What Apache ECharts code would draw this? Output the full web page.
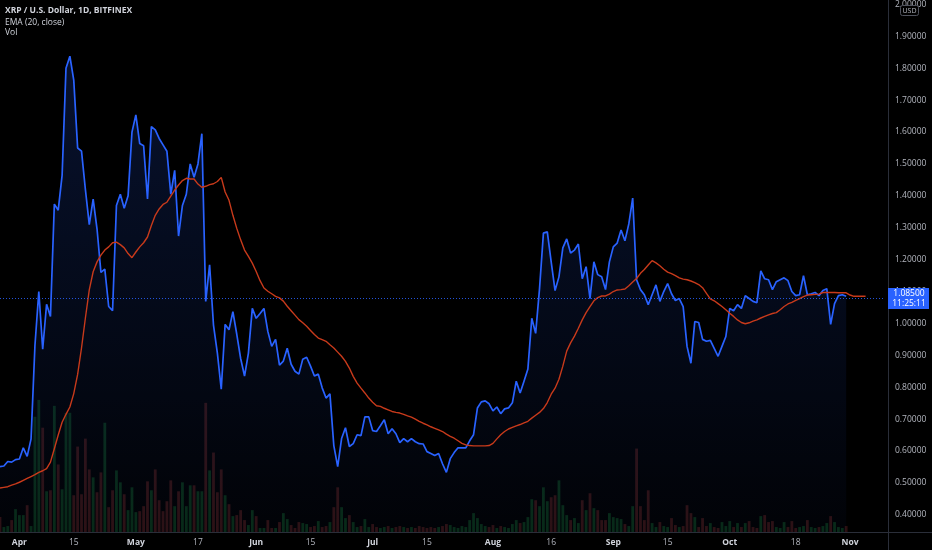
<!DOCTYPE html>
<html>
<head>
<meta charset="utf-8">
<script src="https://cdn.jsdelivr.net/npm/echarts@6/dist/echarts.min.js"></script>
<style>
html,body{margin:0;padding:0;background:#000;}
#chart{width:932px;height:550px;}
</style>
</head>
<body>
<div id="chart"></div>
<script>
// ---- data (daily, starting 2021-03-27) ----
const startDate = [2021, 2, 27];
const dayCount = 229; // through 2021-11-10 (empty space after last bar)

const closes = [
0.551,0.553,0.567,0.565,0.573,0.575,0.610,0.583,0.638,0.930,
1.100,0.919,1.060,1.022,1.374,1.355,1.464,1.800,1.838,1.763,
1.550,1.540,1.420,1.310,1.390,1.296,1.160,1.170,1.053,1.040,
1.370,1.405,1.361,1.400,1.600,1.654,1.564,1.557,1.390,1.617,
1.607,1.580,1.560,1.540,1.405,1.480,1.274,1.370,1.405,1.500,
1.458,1.500,1.595,1.069,1.184,0.995,0.907,0.794,0.997,0.980,
1.037,0.966,0.890,0.835,0.907,1.047,1.016,1.031,1.047,0.975,
0.928,0.950,0.869,0.882,0.922,0.872,0.850,0.841,0.888,0.894,
0.866,0.835,0.841,0.798,0.766,0.779,0.617,0.551,0.639,0.673,
0.614,0.623,0.651,0.648,0.707,0.707,0.664,0.661,0.679,0.698,
0.654,0.670,0.654,0.626,0.639,0.629,0.639,0.629,0.623,0.622,
0.598,0.592,0.586,0.592,0.560,0.533,0.576,0.595,0.610,0.610,
0.610,0.632,0.651,0.735,0.754,0.757,0.748,0.726,0.738,0.717,
0.732,0.735,0.751,0.819,0.782,0.819,0.857,1.016,0.969,1.109,
1.283,1.287,1.193,1.103,1.146,1.237,1.265,1.221,1.230,1.249,
1.140,1.178,1.078,1.193,1.153,1.146,1.106,1.193,1.240,1.252,
1.293,1.259,1.312,1.393,1.137,1.106,1.090,1.059,1.090,1.121,
1.069,1.100,1.125,1.093,1.072,1.078,1.053,0.928,0.875,1.006,
1.003,0.950,0.944,0.947,0.922,0.897,0.928,0.959,1.047,1.040,
1.059,1.047,1.087,1.078,1.069,1.065,1.165,1.140,1.137,1.106,
1.131,1.137,1.143,1.134,1.100,1.087,1.090,1.150,1.090,1.093,
1.097,1.087,1.103,1.109,0.997,1.062,1.087,1.090,1.085
];

const ema20 = [
0.484,0.486,0.488,0.493,0.497,0.502,0.508,0.514,0.520,0.526,
0.533,0.538,0.545,0.565,0.607,0.650,0.690,0.715,0.738,0.780,
0.840,0.923,1.017,1.105,1.162,1.193,1.214,1.230,1.240,1.253,
1.255,1.247,1.237,1.219,1.206,1.224,1.240,1.253,1.271,1.307,
1.339,1.359,1.373,1.380,1.399,1.418,1.434,1.448,1.455,1.453,
1.453,1.437,1.427,1.430,1.435,1.438,1.445,1.458,1.412,1.386,
1.339,1.298,1.262,1.230,1.210,1.189,1.163,1.134,1.111,1.101,
1.093,1.085,1.080,1.070,1.054,1.040,1.026,1.012,1.002,0.991,
0.978,0.965,0.954,0.949,0.944,0.933,0.923,0.910,0.897,0.881,
0.860,0.834,0.813,0.797,0.782,0.766,0.753,0.742,0.740,0.734,
0.729,0.724,0.721,0.719,0.715,0.710,0.706,0.700,0.693,0.687,
0.682,0.676,0.671,0.666,0.661,0.653,0.646,0.640,0.632,0.624,
0.619,0.617,0.616,0.616,0.616,0.616,0.617,0.624,0.638,0.651,
0.661,0.669,0.674,0.679,0.683,0.688,0.693,0.703,0.712,0.721,
0.733,0.752,0.778,0.797,0.825,0.866,0.913,0.939,0.960,0.985,
1.011,1.034,1.053,1.071,1.081,1.086,1.086,1.092,1.100,1.105,
1.106,1.108,1.118,1.130,1.141,1.157,1.169,1.183,1.197,1.190,
1.181,1.170,1.161,1.156,1.150,1.143,1.139,1.137,1.133,1.128,
1.122,1.112,1.094,1.077,1.071,1.062,1.053,1.043,1.032,1.022,
1.011,1.003,0.999,1.002,1.007,1.011,1.017,1.022,1.027,1.031,
1.034,1.043,1.053,1.061,1.066,1.072,1.078,1.084,1.089,1.090,
1.091,1.092,1.097,1.097,1.097,1.097,1.096,1.096,1.096,1.089,
1.085,1.085,1.085,1.085
];

// volume, millions
const volumes = [
15,5,6,12,23,17,17,27,6,116,
133,105,41,42,127,68,43,120,120,37,
86,38,94,63,55,40,60,110,25,42,
62,50,38,22,45,20,21,26,51,42,
63,32,21,31,52,26,41,50,26,47,
47,41,41,130,62,80,40,63,37,28,
16,17,22,12,7,22,16,4,4,12,
4,4,10,19,13,7,4,10,9,8,
5,6,11,5,6,10,25,45,25,14,
17,10,5,6,13,5,8,5,4,5,
6,4,5,6,5,4,5,4,6,5,
4,5,4,5,6,8,7,5,4,6,
5,12,19,14,8,6,5,7,4,6,
5,4,8,12,9,10,15,33,32,26,
45,31,35,37,52,27,17,12,14,9,
32,22,39,24,22,12,12,19,15,14,
13,8,6,26,84,26,12,42,9,5,
10,6,5,14,7,5,6,27,19,15,
5,14,6,9,5,4,10,6,11,5,
9,5,9,11,5,4,16,17,10,11,
5,4,10,5,11,4,5,6,12,5,
4,5,6,9,16,10,5,4,6
];

const lastPrice = 1.085;
const lastPriceText = '1.08500';
const countdownText = '11:25:11';

const tickDays = ['2021-04-01','2021-04-15','2021-05-01','2021-05-17','2021-06-01','2021-06-15','2021-07-01','2021-07-15','2021-08-01','2021-08-16','2021-09-01','2021-09-15','2021-10-01','2021-10-18','2021-11-01'];
const tickTexts = ['Apr','15','May','17','Jun','15','Jul','15','Aug','16','Sep','15','Oct','18','Nov'];
const monthTicks = ['Apr','May','Jun','Jul','Aug','Sep','Oct','Nov'];

const titleLines = ['XRP / U.S. Dollar, 1D, BITFINEX', 'EMA (20, close)', 'Vol'];

// ---- build ----
const days = [];
for (let i = 0; i < dayCount; i++) {
  const d = new Date(Date.UTC(startDate[0], startDate[1], startDate[2] + i));
  days.push(d.toISOString().slice(0, 10));
}
const tickMap = {};
tickDays.forEach((d, k) => { tickMap[d] = tickTexts[k]; });

const pad = arr => days.map((_, i) => (i < arr.length ? arr[i] : null));
const priceData = pad(closes);
const emaData = pad(ema20);
const volData = days.map((_, i) => {
  if (i >= volumes.length) return null;
  const up = i > 0 && closes[i] >= closes[i - 1];
  return { value: volumes[i], itemStyle: { color: up ? '#072812' : '#2c0f0f' } };
});

const FONT = 'Open Sans';
const chart = echarts.init(document.getElementById('chart'), null, { renderer: 'canvas' });

chart.setOption({
  backgroundColor: '#000000',
  animation: false,
  grid: { left: 0, right: 47, top: 0, bottom: 18, containLabel: false },
  xAxis: {
    type: 'category',
    data: days,
    boundaryGap: false,
    axisLine: { show: false },
    axisTick: { show: false },
    splitLine: { show: false },
    axisLabel: {
      interval: (idx, val) => tickMap[val] !== undefined,
      formatter: val => {
        const t = tickMap[val];
        return monthTicks.indexOf(t) >= 0 ? '{m|' + t + '}' : '{d|' + t + '}';
      },
      margin: 6,
      rich: {
        m: { color: '#d1d4dc', fontSize: 8.5, fontWeight: 'bold', fontFamily: FONT },
        d: { color: '#b2b5be', fontSize: 8.5, fontFamily: FONT }
      }
    }
  },
  yAxis: [
    {
      type: 'value',
      position: 'right',
      min: 0.346,
      max: 2.003,
      splitNumber: 17,
      minInterval: 0.1,
      maxInterval: 0.1,
      axisLine: { show: false },
      axisTick: { show: false },
      splitLine: { show: false },
      axisLabel: {
        showMinLabel: false,
        showMaxLabel: false,
        color: '#b2b5be',
        fontSize: 8.5,
        fontFamily: FONT,
        margin: 10,
        formatter: v => v.toFixed(5)
      }
    },
    {
      type: 'value',
      min: 0,
      max: 532,
      show: false,
      splitLine: { show: false }
    }
  ],
  series: [
    {
      name: 'Vol',
      type: 'bar',
      yAxisIndex: 1,
      data: volData,
      barWidth: '72%',
      z: 1,
      silent: true
    },
    {
      name: 'XRP',
      type: 'line',
      data: priceData,
      showSymbol: false,
      connectNulls: false,
      lineStyle: { color: '#2962ff', width: 1.7 },
      itemStyle: { color: '#2962ff' },
      areaStyle: {
        color: new echarts.graphic.LinearGradient(0, 0, 0, 1, [
          { offset: 0, color: 'rgba(41,98,255,0.26)' },
          { offset: 1, color: 'rgba(41,98,255,0.04)' }
        ])
      },
      markLine: {
        silent: true,
        symbol: ['none', 'none'],
        label: { show: false },
        lineStyle: { color: '#2962ff', type: [1, 2], width: 1, opacity: 0.85 },
        data: [{ yAxis: lastPrice }]
      },
      z: 3
    },
    {
      name: 'EMA',
      type: 'line',
      data: emaData,
      showSymbol: false,
      lineStyle: { color: '#c83a1b', width: 1.4 },
      itemStyle: { color: '#c83a1b' },
      z: 4
    }
  ],
  graphic: [
    { type: 'line', shape: { x1: 888.5, y1: 0, x2: 888.5, y2: 550 }, style: { stroke: '#2a2e39', lineWidth: 1 }, z: 10 },
    { type: 'line', shape: { x1: 0, y1: 532.5, x2: 932, y2: 532.5 }, style: { stroke: '#2a2e39', lineWidth: 1 }, z: 10 },
    { type: 'rect', shape: { x: 900.5, y: 5.5, width: 18, height: 10, r: 2 }, style: { fill: '#000', stroke: '#50535e', lineWidth: 1 }, z: 11 },
    { type: 'text', x: 909.5, y: 10.5, style: { text: 'USD', fill: '#b2b5be', font: '7px "Open Sans"', align: 'center', verticalAlign: 'middle' }, z: 12 },
    { type: 'rect', shape: { x: 888, y: 288, width: 41, height: 21 }, style: { fill: '#2962ff' }, z: 11 },
    { type: 'text', x: 909, y: 294, style: { text: lastPriceText, fill: '#ffffff', font: '8.5px "Open Sans"', align: 'center', verticalAlign: 'middle' }, z: 12 },
    { type: 'text', x: 909, y: 303.5, style: { text: countdownText, fill: '#ffffff', font: '8.5px "Open Sans"', align: 'center', verticalAlign: 'middle' }, z: 12 },
    { type: 'text', x: 5, y: 11, style: { text: titleLines[0], fill: '#d1d4dc', font: 'bold 8.5px "Open Sans"', verticalAlign: 'middle' }, z: 12 },
    { type: 'text', x: 5, y: 22.5, style: { text: titleLines[1], fill: '#d1d4dc', font: '8.5px "Open Sans"', verticalAlign: 'middle' }, z: 12 },
    { type: 'text', x: 5, y: 33, style: { text: titleLines[2], fill: '#d1d4dc', font: '8.5px "Open Sans"', verticalAlign: 'middle' }, z: 12 }
  ]
});
</script>
</body>
</html>
